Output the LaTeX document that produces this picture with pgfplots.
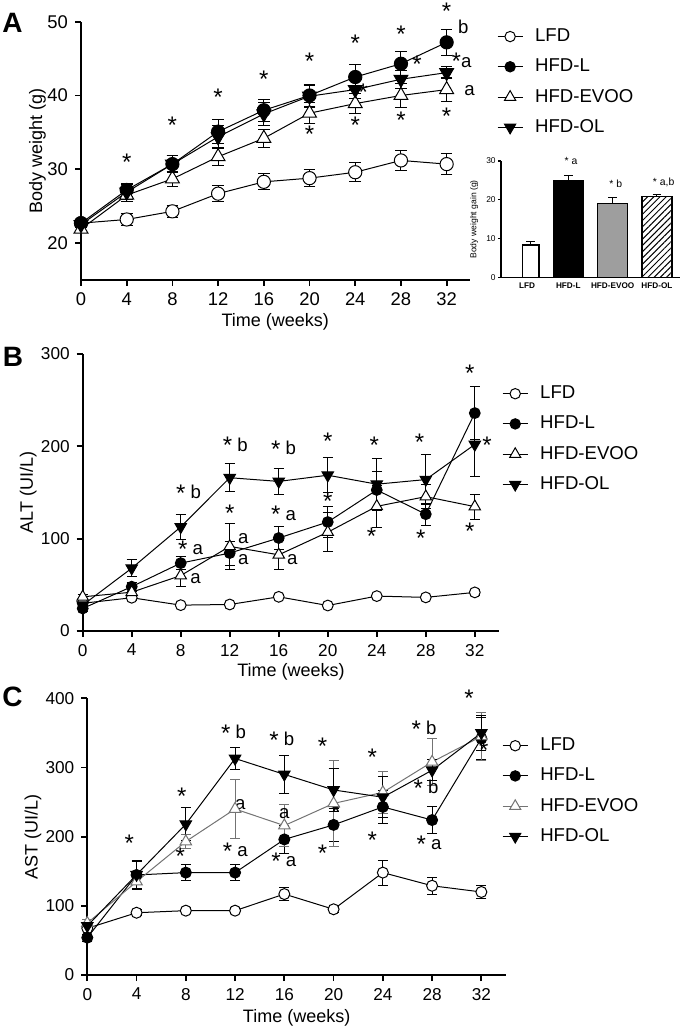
\documentclass[border=0pt]{standalone}
\usepackage{fontspec}
\setmainfont{Liberation Sans}
\usepackage{pgfplots}
\pgfplotsset{compat=1.18}
\usetikzlibrary{patterns.meta}

\pgfplotsset{
  prism/.style={
    scale only axis, clip=false,
    axis lines=left, axis line style={line width=1pt,-},
    tick style={line width=0.9pt, black}, tick align=outside,
    major tick length=3pt,
    /pgf/number format/assume math mode=true,
    ticklabel style={font=\fontsize{8.6}{9}\selectfont},
    label style={font=\fontsize{9}{10}\selectfont},
    xmin=0, xmax=34, xtick={0,4,...,32},
    xlabel={Time (weeks)},
    legend style={draw=none, fill=none, anchor=north west,
      font=\fontsize{9.3}{10}\selectfont, row sep=3.2pt, column sep=4pt, inner sep=0pt},
    legend cell align=left,
    legend image code/.code={
      \draw[##1, mark repeat=2, mark phase=2] plot coordinates {(0cm,0cm)(0.22cm,0cm)(0.44cm,0cm)};},
    error bars/y dir=both, error bars/y explicit,
    error bars/error bar style={line width=0.5pt},
  },
  ser/.style={black, line width=0.5pt, mark size=#1},
}
\tikzset{ann/.style={font=\fontsize{9.3}{9}\selectfont, inner sep=0pt}}
\newcommand{\sa}{\raisebox{-0.15em}{\fontsize{12}{12}\selectfont *}}
\newcommand{\ann}[3]{\node[ann] at (axis cs:#1,#2) {#3};}
\newcommand{\legs}{%
  \addlegendimage{black, line width=0.5pt, mark=*, mark size=2.6pt, mark options={fill=white}}
  \addlegendentry{LFD}
  \addlegendimage{black, line width=0.5pt, mark=*, mark size=2.6pt}
  \addlegendentry{HFD-L}
  \addlegendimage{black, line width=0.5pt, mark=triangle*, mark size=3.2pt, mark options={fill=white}}
  \addlegendentry{HFD-EVOO}
  \addlegendimage{black, line width=0.5pt, mark=triangle*, mark size=3.2pt, mark options={rotate=180}}
  \addlegendentry{HFD-OL}}

\begin{document}
\begin{tikzpicture}
\useasboundingbox (0,0) rectangle (342.5pt,515.5pt);

% ---------------- A: body weight ----------------
\begin{axis}[prism, at={(40.5pt,375.5pt)}, anchor=south west,
  width=194.25pt, height=129.15pt,
  ymin=15, ymax=50, ytick={20,30,40,50},
  ticklabel style={font=\fontsize{9.2}{9}\selectfont},
  ylabel={Body weight (g)},
  ylabel style={at={(axis description cs:-0.112,0.5)}, anchor=center},
  xlabel style={at={(axis description cs:0.5,-0.161)}, anchor=center},
  legend style={at={(1.07,0.99)}},
  error bars/error mark options={rotate=90, mark size=2.9pt, line width=0.5pt},
]
\legs
\addplot[ser=3.3pt, mark=*, mark options={fill=white}] coordinates {
  (0,22.7) +- (0,0.5) (4,23.2) +- (0,0.8) (8,24.3) +- (0,0.8) (12,26.7) +- (0,1.1)
  (16,28.3) +- (0,1.1) (20,28.8) +- (0,1.2) (24,29.6) +- (0,1.3) (28,31.2) +- (0,1.4)
  (32,30.7) +- (0,1.4)};
\addplot[ser=3.3pt, mark=*] coordinates {
  (0,22.7) +- (0,0.4) (4,27.2) +- (0,0.9) (8,30.7) +- (0,1.2) (12,35.1) +- (0,1.6)
  (16,38.0) +- (0,1.5) (20,40.0) +- (0,1.5) (24,42.5) +- (0,1.7) (28,44.3) +- (0,1.6)
  (32,47.2) +- (0,1.8)};
\addplot[ser=4pt, mark=triangle*, mark options={fill=white}] coordinates {
  (0,21.9) +- (0,0.4) (4,26.5) +- (0,0.8) (8,28.7) +- (0,1.0) (12,31.7) +- (0,1.2)
  (16,34.2) +- (0,1.2) (20,37.6) +- (0,1.4) (24,38.9) +- (0,1.4) (28,40.0) +- (0,1.6)
  (32,40.8) +- (0,1.6)};
\addplot[ser=4pt, mark=triangle*, mark options={rotate=180}] coordinates {
  (0,22.5) +- (0,0.4) (4,26.9) +- (0,1.0) (8,30.7) +- (0,1.2) (12,34.4) +- (0,1.6)
  (16,37.5) +- (0,1.5) (20,39.9) +- (0,1.5) (24,40.8) +- (0,1.2) (28,42.2) +- (0,1.2)
  (32,43.1) +- (0,0.8)};
\ann{4}{31.0}{\sa} \ann{8}{36.0}{\sa} \ann{12}{39.7}{\sa} \ann{16}{42.2}{\sa}
\ann{20}{44.7}{\sa} \ann{24}{47.1}{\sa} \ann{28}{48.3}{\sa} \ann{32}{51.4}{\sa}
\ann{20}{34.8}{\sa} \ann{24}{36.0}{\sa} \ann{28}{36.7}{\sa} \ann{32}{37.2}{\sa}
\ann{29.4}{44.3}{\sa} \ann{24.7}{40.5}{\sa}
\ann{33.45}{49.3}{b} \ann{33.3}{44.6}{\sa a} \ann{34.0}{40.6}{a}
\end{axis}

% inset: body weight gain
\begin{axis}[scale only axis, clip=false, at={(250.5pt,376.65pt)}, anchor=south west,
  width=89.5pt, height=58.35pt,
  axis lines=left, axis line style={line width=0.8pt,-},
  tick style={line width=0.6pt, black}, tick align=outside, major tick length=1.5pt,
  xmin=-0.52, xmax=3.52, ymin=0, ymax=30, ytick={0,10,20,30},
  xtick={0.07,1,2,3}, xticklabels={LFD,HFD-L,HFD-EVOO,HFD-OL},
  x tick style={draw=none},
  /pgf/number format/assume math mode=true,
  yticklabel style={font=\fontsize{4.2}{5}\selectfont, inner sep=1pt},
  xticklabel style={font=\bfseries\fontsize{4.1}{5}\selectfont, inner sep=1pt},
  ylabel={Body weight gain (g)},
  ylabel style={font=\fontsize{4.3}{5}\selectfont, at={(axis description cs:-0.15,0.5)}, anchor=center},
  ybar, bar shift=0pt,
  error bars/y dir=plus, error bars/y explicit,
  error bars/error bar style={line width=0.5pt, black},
  error bars/error mark options={rotate=90, mark size=2.2pt, line width=0.5pt, black},
]
\addplot[draw=black, line width=0.6pt, fill=white, bar width=8.3pt] coordinates {(0.15,8.4) +- (0,1.0)};
\addplot[draw=black, line width=0.6pt, fill=black, bar width=15pt] coordinates {(1,24.85) +- (0,1.3)};
\addplot[draw=black, line width=0.6pt, fill=black!38, bar width=15pt] coordinates {(2,19.1) +- (0,1.5)};
\addplot[draw=black, line width=0.6pt, pattern={Lines[angle=45,distance=2.2pt,line width=0.5pt]}, bar width=15pt] coordinates {(3,20.8) +- (0,0.7)};
\node[font=\fontsize{5.2}{5}\selectfont] at (axis cs:1.06,30.1) {* a};
\node[font=\fontsize{5.2}{5}\selectfont] at (axis cs:2.07,24.25) {* b};
\node[font=\fontsize{5.2}{5}\selectfont] at (axis cs:3.15,24.5) {* a,b};
\end{axis}

% ---------------- B: ALT ----------------
\begin{axis}[prism, at={(41.35pt,200pt)}, anchor=south west,
  width=208.3pt, height=138.5pt,
  ymin=0, ymax=300, ytick={0,100,200,300},
  ylabel={ALT (UI/L)},
  ylabel style={at={(axis description cs:-0.131,0.5)}, anchor=center},
  xlabel style={at={(axis description cs:0.5,-0.148)}, anchor=center},
  legend style={at={(1.006,0.901)}},
  error bars/error mark options={rotate=90, mark size=2.5pt, line width=0.5pt},
]
\legs
\addplot[ser=2.7pt, mark=*, mark options={fill=white}] coordinates {
  (0,30) +- (0,2) (4,36) +- (0,3) (8,28) +- (0,2) (12,28.7) +- (0,2)
  (16,37) +- (0,2) (20,27.6) +- (0,2) (24,37.8) +- (0,2) (28,36.4) +- (0,2)
  (32,41.8) +- (0,3)};
\addplot[ser=2.7pt, mark=*] coordinates {
  (0,24.4) +- (0,3) (4,48) +- (0,5) (8,73.5) +- (0,7) (12,84.4) +- (0,13)
  (16,100.7) +- (0,12) (20,118) +- (0,17) (24,152.7) +- (0,20) (28,126.5) +- (0,12)
  (32,236) +- (0,29)};
\addplot[ser=3.3pt, mark=triangle*, mark options={fill=white}] coordinates {
  (0,37) +- (0,2) (4,42) +- (0,5) (8,60) +- (0,12) (12,91.6) +- (0,25)
  (16,82.5) +- (0,16) (20,107) +- (0,21) (24,135) +- (0,23) (28,145.5) +- (0,13)
  (32,134.7) +- (0,13.5)};
\addplot[ser=3.3pt, mark=triangle*, mark options={rotate=180}] coordinates {
  (0,28) +- (0,3) (4,68) +- (0,9) (8,112.7) +- (0,14) (12,166) +- (0,15)
  (16,162) +- (0,14) (20,168.7) +- (0,19) (24,159) +- (0,28) (28,164) +- (0,27)
  (32,202) +- (0,34.5)};
\ann{8.63}{149}{\sa{} b} \ann{8.8}{89}{\sa{} a} \ann{9.2}{57}{a}
\ann{12.45}{200.7}{\sa{} b} \ann{12}{128}{\sa} \ann{13.1}{99.6}{a} \ann{13.1}{77.8}{a}
\ann{16.4}{197}{\sa{} b} \ann{16.4}{126}{\sa{} a} \ann{17.1}{77}{a}
\ann{20}{206}{\sa} \ann{20}{140.7}{\sa}
\ann{23.8}{200.7}{\sa} \ann{23.57}{102.5}{\sa}
\ann{27.5}{204}{\sa} \ann{27.6}{100.7}{\sa}
\ann{31.6}{279}{\sa} \ann{33.0}{201.5}{\sa} \ann{31.6}{107.6}{\sa}
\end{axis}

% ---------------- C: AST ----------------
\begin{axis}[prism, at={(43.65pt,28pt)}, anchor=south west,
  width=209.35pt, height=138.35pt,
  ymin=0, ymax=400, ytick={0,100,200,300,400},
  ylabel={AST (UI/L)},
  ylabel style={at={(axis description cs:-0.13,0.5)}, anchor=center},
  xlabel style={at={(axis description cs:0.5,-0.155)}, anchor=center},
  legend style={at={(0.99,0.873)}},
  error bars/error mark options={rotate=90, mark size=2.5pt, line width=0.5pt},
]
\addlegendimage{black, line width=0.5pt, mark=*, mark size=2.6pt, mark options={fill=white}}
\addlegendentry{LFD}
\addlegendimage{black, line width=0.5pt, mark=*, mark size=2.6pt}
\addlegendentry{HFD-L}
\addlegendimage{black!55, line width=0.5pt, mark=triangle*, mark size=3.2pt, mark options={fill=white}}
\addlegendentry{HFD-EVOO}
\addlegendimage{black, line width=0.5pt, mark=triangle*, mark size=3.2pt, mark options={rotate=180}}
\addlegendentry{HFD-OL}
\addplot[ser=2.75pt, mark=*, mark options={fill=white}] coordinates {
  (0,67.5) +- (0,3) (4,90) +- (0,4) (8,93) +- (0,4) (12,93) +- (0,4)
  (16,117) +- (0,10) (20,95) +- (0,4) (24,148) +- (0,18) (28,129) +- (0,12)
  (32,120) +- (0,10)};
\addplot[ser=2.75pt, mark=*] coordinates {
  (0,54) +- (0,5) (4,144.6) +- (0,20) (8,148) +- (0,12) (12,148) +- (0,12)
  (16,196) +- (0,20) (20,217) +- (0,24) (24,243) +- (0,24) (28,224) +- (0,19)
  (32,342) +- (0,30)};
\addplot[ser=3.3pt, black!55, mark=triangle*, mark options={fill=white}] coordinates {
  (0,75) +- (0,5) (4,135) +- (0,12) (8,193) +- (0,10) (12,240) +- (0,43)
  (16,216) +- (0,30) (20,248) +- (0,62) (24,264) +- (0,30) (28,308) +- (0,34)
  (32,345) +- (0,35)};
\addplot[ser=3.3pt, mark=triangle*, mark options={rotate=180}] coordinates {
  (0,71) +- (0,5) (4,145) +- (0,21) (8,218) +- (0,24) (12,313) +- (0,16)
  (16,290) +- (0,28) (20,267.5) +- (0,31) (24,257) +- (0,30) (28,296) +- (0,15)
  (32,350) +- (0,25)};
\ann{3.42}{190}{\sa}
\ann{7.68}{259}{\sa} \ann{7.55}{171}{\sa}
\ann{11.88}{350}{\sa{} b} \ann{12.42}{247}{a} \ann{12.02}{179}{\sa{} a}
\ann{15.8}{340}{\sa{} b} \ann{16.0}{233}{a} \ann{15.96}{165}{\sa{} a}
\ann{19.1}{330}{\sa} \ann{19.1}{176}{\sa} \ann{20.2}{236}{\sa}
\ann{23.14}{315}{\sa} \ann{23.14}{195}{\sa}
\ann{27.35}{355}{\sa{} b} \ann{27.5}{270}{\sa{} b} \ann{27.75}{189}{\sa{} a}
\ann{31.0}{400}{\sa} \ann{32.2}{325}{\sa}
\end{axis}

\node[font=\bfseries\fontsize{14}{14}\selectfont] at (6.25pt,504pt) {A};
\node[font=\bfseries\fontsize{14}{14}\selectfont] at (6.5pt,337pt) {B};
\node[font=\bfseries\fontsize{14}{14}\selectfont] at (6.25pt,167pt) {C};
\end{tikzpicture}
\end{document}
